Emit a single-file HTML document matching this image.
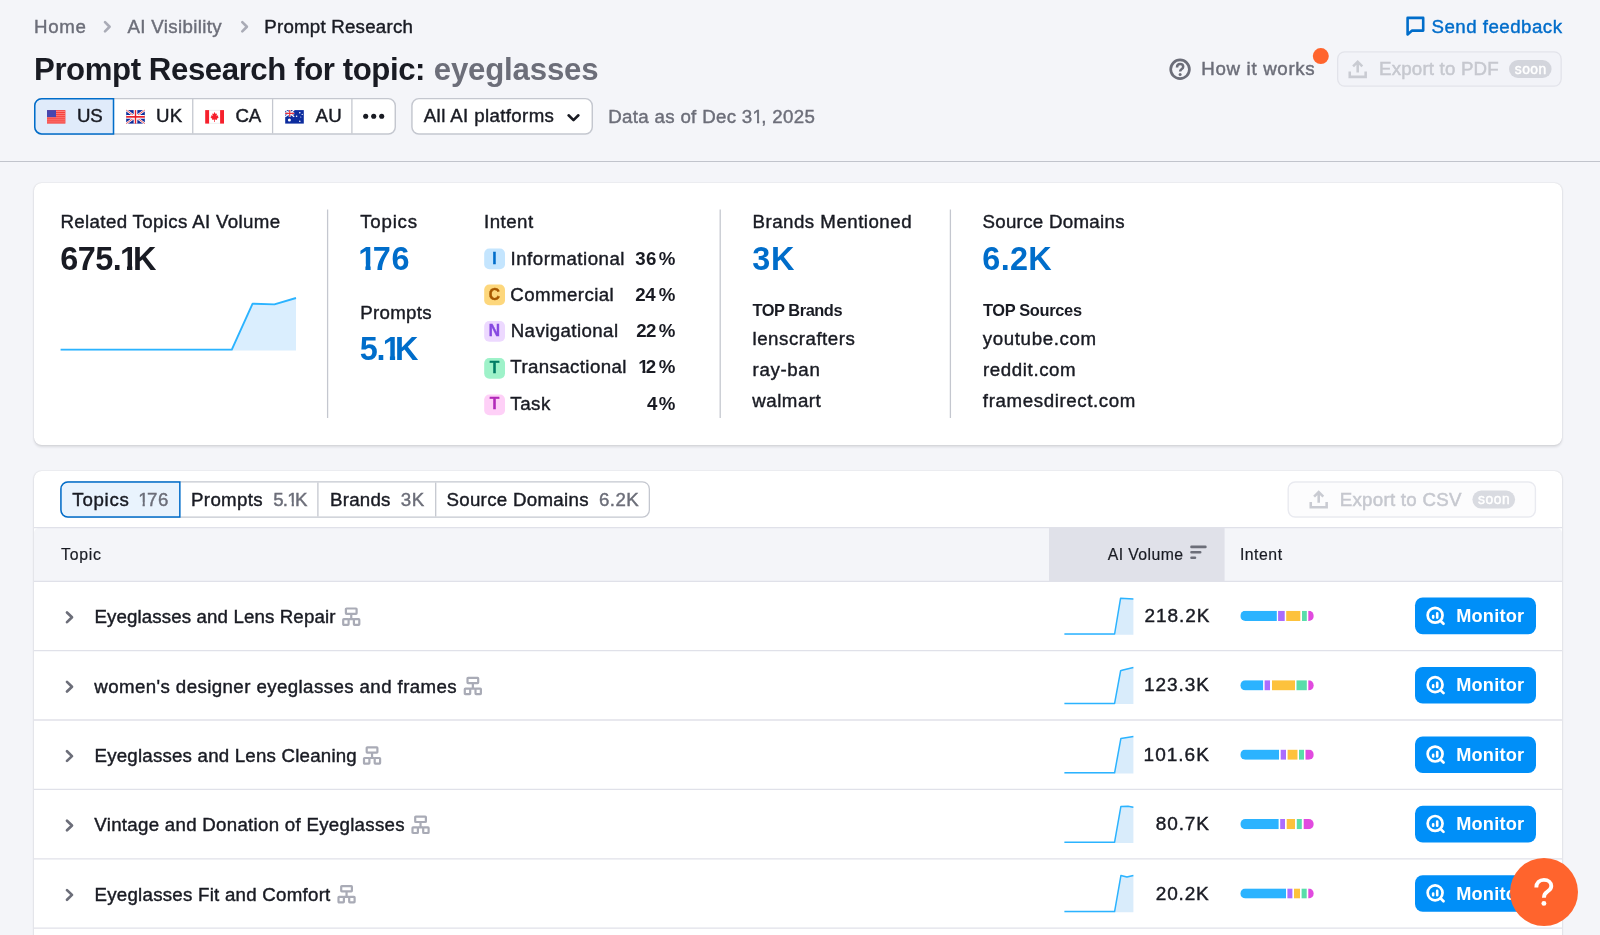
<!DOCTYPE html>
<html lang="en"><head><meta charset="utf-8"><title>Prompt Research</title>
<style>
*{margin:0;padding:0;box-sizing:border-box}
html,body{width:1600px;height:935px;overflow:hidden;background:#f4f5f9}
body{font-family:"Liberation Sans",sans-serif;position:relative;color:#191b23}
.a{position:absolute}
.t{position:absolute;white-space:nowrap;line-height:normal}
svg{position:absolute;overflow:visible}
.card{position:absolute;background:#fff;border-radius:7.7px;box-shadow:0 0 1.3px 0 rgba(25,27,35,.16),0 1.3px 2.6px 0 rgba(25,27,35,.12)}
.bdg{position:absolute;left:484.2px;width:20.8px;height:20.8px;border-radius:5px;font-weight:700;font-size:15.6px;text-align:center;line-height:20.8px}
.o,.ob{font-style:normal;display:inline-block;line-height:normal;vertical-align:baseline;margin-right:-.11em}
.o{clip-path:polygon(0 0,2em 0,2em .7em,.352em .7em,.352em 2em,.236em 2em,.236em .7em,0 .7em)}
.ob{clip-path:polygon(0 0,2em 0,2em .7em,.382em .7em,.382em 2em,.22em 2em,.22em .7em,0 .7em)}
.n1{margin:0 -4.4px 0 -1.2px}
#txt,.bdg{will-change:transform}

</style></head>
<body>
<div class="card" style="left:34px;top:183px;width:1528px;height:261.5px"></div>
<div class="card" style="left:34px;top:471px;width:1528px;height:480px"></div>
<svg id="sh" width="1600" height="935" viewBox="0 0 1600 935" style="left:0;top:0">
<g transform="translate(103.30 20.50)"><path d="M1.7 1.6 L6.3 6.25 L1.7 10.9" fill="none" stroke="#a9abb6" stroke-width="2.6" stroke-linecap="round" stroke-linejoin="round"/></g>
<g transform="translate(240.60 20.50)"><path d="M1.7 1.6 L6.3 6.25 L1.7 10.9" fill="none" stroke="#a9abb6" stroke-width="2.6" stroke-linecap="round" stroke-linejoin="round"/></g>
<g transform="translate(1406.30 16.60)"><path d="M1.3 1.3 H16.9 V14 H5.8 L1.3 17.8 Z" fill="none" stroke="#006dca" stroke-width="2.6" stroke-linejoin="round"/></g>
<g transform="translate(1169.30 58.60)"><circle cx="10.75" cy="10.7" r="9.35" fill="none" stroke="#6c6e79" stroke-width="2.7"/><path d="M7.7 8.8 C7.7 6.6 9 5.5 10.8 5.5 C12.6 5.5 13.9 6.6 13.9 8.1 C13.9 9.4 13.2 10 12.2 10.6 C11.2 11.3 10.8 11.7 10.8 13" fill="none" stroke="#6c6e79" stroke-width="2.5"/><circle cx="10.8" cy="15.8" r="1.5" fill="#6c6e79"/></g>
<circle cx="1320.8" cy="56.1" r="8" fill="#ff642d"/>
<rect x="1337.64" y="51.84" width="223.52" height="34.32" rx="7.06" fill="#f2f3f8" stroke="#e2e3ea" stroke-width="1.28" />
<g transform="translate(1348.60 60.00)"><path d="M9.1 12.4 V2 M4.5 6.3 L9.1 1.7 L13.7 6.3 M1.15 11.6 V16.85 H17.05 V11.6" fill="none" stroke="#c9cbd2" stroke-width="2.55"/></g>
<rect x="1509.00" y="60.00" width="42.60" height="18.00" rx="9.00" fill="#d3d5dc" />
<rect x="34.73" y="98.62" width="360.55" height="35.35" rx="6.98" fill="#fff" stroke="#c4c7cf" stroke-width="1.45" />
<path d="M192.75 99.10 V133.40" stroke="#c4c7cf" stroke-width="1.28"/>
<path d="M272.60 99.10 V133.40" stroke="#c4c7cf" stroke-width="1.28"/>
<path d="M351.90 99.10 V133.40" stroke="#c4c7cf" stroke-width="1.28"/>
<path d="M113.52 98.68 H41.70 A6.92 6.92 0 0 0 34.77 105.60 V127.00 A6.92 6.92 0 0 0 41.70 133.92 H113.52 Z" fill="#e0ebfa" stroke="#006dca" stroke-width="1.55"/>
<g transform="translate(47.00 110.10)"><rect width="18.4" height="13.5" fill="#f6403c"/><g fill="#ff9a95"><rect y="1.2" width="18.4" height=".7"/><rect y="3.25" width="18.4" height=".7"/><rect y="5.3" width="18.4" height=".7"/><rect y="7.4" width="18.4" height=".7"/><rect y="9.45" width="18.4" height=".7"/><rect y="11.5" width="18.4" height=".7"/></g><rect width="9" height="7" fill="#4646ae"/></g>
<g transform="translate(126.20 110.10)"><rect width="18.6" height="13.5" fill="#0c2a9a"/><path d="M0 0 L18.6 13.5 M18.6 0 L0 13.5" stroke="#fff" stroke-width="2.3"/><path d="M0 0 L18.6 13.5 M18.6 0 L0 13.5" stroke="#ee3a40" stroke-width=".8"/><path d="M9.3 0 V13.5 M0 6.75 H18.6" stroke="#fff" stroke-width="3.7"/><path d="M9.3 0 V13.5" stroke="#e8202a" stroke-width="1.4"/><path d="M0 6.75 H18.6" stroke="#e8202a" stroke-width="1.7"/></g>
<g transform="translate(205.20 110.10)"><rect width="18.8" height="13.5" fill="#fff"/><path d="M3.8 .3 H15 M3.8 13.2 H15" stroke="#e4e4e6" stroke-width=".6"/><rect width="3.9" height="13.5" fill="#f6202c"/><rect x="14.9" width="3.9" height="13.5" fill="#f6202c"/><path d="M9.4 1.9 L10.5 4 L11.8 3.4 L11.3 6 L12.9 5.2 L12.7 6.6 L13.7 6.8 L11.6 8.9 L11.9 9.9 L9.75 9.5 V11.9 H9.05 V9.5 L6.9 9.9 L7.2 8.9 L5.1 6.8 L6.1 6.6 L5.9 5.2 L7.5 6 L7 3.4 L8.3 4 Z" fill="#f6202c"/></g>
<g transform="translate(285.20 110.10)"><rect width="18.6" height="13.5" fill="#0c2c9e"/><path d="M0 0 L9 6.6 M9 0 L0 6.6" stroke="#fff" stroke-width="1.3"/><path d="M4.5 0 V6.6 M0 3.3 H9" stroke="#fff" stroke-width="2.1"/><path d="M4.5 0 V6.6 M0 3.3 H9" stroke="#e8313a" stroke-width="1.1"/><g fill="#fff"><circle cx="4.2" cy="10" r="1.5"/><circle cx="14.6" cy="2.6" r=".8"/><circle cx="17" cy="4.3" r=".6"/><circle cx="14.6" cy="11.2" r=".8"/><circle cx="11.4" cy="6.2" r=".8"/><circle cx="15.6" cy="7" r=".5"/></g></g>
<circle cx="365.7" cy="116.2" r="2.55" fill="#191b23"/>
<circle cx="373.7" cy="116.2" r="2.55" fill="#191b23"/>
<circle cx="381.7" cy="116.2" r="2.55" fill="#191b23"/>
<rect x="411.93" y="98.62" width="180.35" height="35.35" rx="6.98" fill="#fff" stroke="#c4c7cf" stroke-width="1.45" />
<g transform="translate(567.00 113.60)"><path d="M1.6 1.7 L6.5 6.5 L11.4 1.7" fill="none" stroke="#191b23" stroke-width="2.6" stroke-linecap="round" stroke-linejoin="round"/></g>
<path d="M0.00 161.45 H1600.00" stroke="#c1c4cc" stroke-width="1.15"/>
<g transform="translate(60.60 296.00)"><path d="M0 53.6 H171.2 L192 7.7 L213.8 8.4 L235.4 2 V54.6 H0 Z" fill="#daeefe"/><path d="M0 53.6 H171.2 L192 7.7 L213.8 8.4 L235.4 2" fill="none" stroke="#2bb3ff" stroke-width="1.9" stroke-linejoin="round"/></g>
<path d="M327.60 209.50 V418.00" stroke="#c4c7cf" stroke-width="1.28"/>
<path d="M720.20 209.50 V418.00" stroke="#c4c7cf" stroke-width="1.28"/>
<path d="M950.40 209.50 V418.00" stroke="#c4c7cf" stroke-width="1.28"/>
<rect x="60.84" y="481.84" width="588.52" height="35.22" rx="7.06" fill="#fff" stroke="#c4c7cf" stroke-width="1.28" />
<path d="M317.90 482.40 V516.50" stroke="#c4c7cf" stroke-width="1.28"/>
<path d="M435.70 482.40 V516.50" stroke="#c4c7cf" stroke-width="1.28"/>
<path d="M179.85 481.95 H67.90 A6.95 6.95 0 0 0 60.95 488.90 V510.00 A6.95 6.95 0 0 0 67.90 516.95 H179.85 Z" fill="#e9f3fd" stroke="#006dca" stroke-width="1.5"/>
<rect x="1288.20" y="482.00" width="247.20" height="35.00" rx="7.00" fill="#fcfcfd" stroke="#e9eaf0" stroke-width="1.4" />
<g transform="translate(1309.60 490.40)"><path d="M9.1 12.4 V2 M4.5 6.3 L9.1 1.7 L13.7 6.3 M1.15 11.6 V16.85 H17.05 V11.6" fill="none" stroke="#c9cbd2" stroke-width="2.55"/></g>
<rect x="1472.40" y="490.60" width="42.70" height="17.90" rx="9.00" fill="#d9dbe1" />
<path d="M34 582 V533 A5 5 0 0 1 39 528 H1557 A5 5 0 0 1 1562 533 V582 Z" fill="#f4f5f9"/>
<rect x="1049" y="528" width="175.6" height="54" fill="#e0e1e9"/>
<path d="M34.00 527.60 H1562.00" stroke="#e0e1e9" stroke-width="1.3"/>
<path d="M34.00 581.40 H1562.00" stroke="#e0e1e9" stroke-width="1.3"/>
<g transform="translate(1190.30 545.60)"><path d="M1.2 1.3 H15.1 M1.2 6.7 H9.9 M1.2 12.1 H4.7" fill="none" stroke="#6c6e79" stroke-width="2.6" stroke-linecap="round"/></g>
<path d="M34.00 650.60 H1562.00" stroke="#e0e1e9" stroke-width="1.3"/>
<g transform="translate(65.20 610.80)"><path d="M1.8 1.7 L6.8 6.5 L1.8 11.3" fill="none" stroke="#6c6e79" stroke-width="2.7" stroke-linecap="round" stroke-linejoin="round"/></g>
<g transform="translate(342.10 607.40)"><g fill="none" stroke="#a9abb6" stroke-width="2.2" stroke-linejoin="round"><rect x="3.8" y="1.1" width="10.7" height="5.3" rx=".6"/><rect x="1.1" y="11.8" width="5.4" height="5.6" rx=".6"/><rect x="11.8" y="11.8" width="5.4" height="5.6" rx=".6"/><path d="M9.15 6.4 V11.8 M6.5 11.8 H11.8"/></g></g>
<path d="M1064.4 634.0 L1114.6 634.0 L1120.6 598.2 L1133.4 599.1 L1133.4 634.7 L1064.4 634.7 Z" fill="#d9ecfb"/><path d="M1064.4 634.0 L1114.6 634.0 L1120.6 598.2 L1133.4 599.1" fill="none" stroke="#2bb3ff" stroke-width="1.5" stroke-linejoin="round"/>
<clipPath id="bc0"><rect x="1240.3" y="610.8" width="73.5" height="10.2" rx="5.1"/></clipPath>
<g clip-path="url(#bc0)"><rect x="1240.3" y="610.8" width="36.5" height="10.2" fill="#2bb3ff"/><rect x="1278.1" y="610.8" width="6.6" height="10.2" fill="#ab6cfe"/><rect x="1286.2" y="610.8" width="14.1" height="10.2" fill="#fdc23c"/><rect x="1302.0" y="610.8" width="4.8" height="10.2" fill="#59ddaa"/><rect x="1308.3" y="610.8" width="5.5" height="10.2" fill="#e14adf"/></g>
<rect x="1415.00" y="597.60" width="121.00" height="36.60" rx="7.70" fill="#008ff8" />
<g transform="translate(1426.20 606.60)"><circle cx="8.9" cy="8.65" r="7.45" fill="none" stroke="#fff" stroke-width="2.7"/><path d="M14.3 14.1 L17.3 17.1" stroke="#fff" stroke-width="2.7" stroke-linecap="round"/><path d="M6.95 9.4 V11 M11 6.7 V11" stroke="#fff" stroke-width="2.6" stroke-linecap="round"/></g>
<path d="M34.00 720.00 H1562.00" stroke="#e0e1e9" stroke-width="1.3"/>
<g transform="translate(65.20 680.20)"><path d="M1.8 1.7 L6.8 6.5 L1.8 11.3" fill="none" stroke="#6c6e79" stroke-width="2.7" stroke-linecap="round" stroke-linejoin="round"/></g>
<g transform="translate(463.70 676.80)"><g fill="none" stroke="#a9abb6" stroke-width="2.2" stroke-linejoin="round"><rect x="3.8" y="1.1" width="10.7" height="5.3" rx=".6"/><rect x="1.1" y="11.8" width="5.4" height="5.6" rx=".6"/><rect x="11.8" y="11.8" width="5.4" height="5.6" rx=".6"/><path d="M9.15 6.4 V11.8 M6.5 11.8 H11.8"/></g></g>
<path d="M1064.4 703.4 L1114.6 703.4 L1120.6 670.8 L1123.0 670.0 L1133.4 667.4 L1133.4 704.1 L1064.4 704.1 Z" fill="#d9ecfb"/><path d="M1064.4 703.4 L1114.6 703.4 L1120.6 670.8 L1123.0 670.0 L1133.4 667.4" fill="none" stroke="#2bb3ff" stroke-width="1.5" stroke-linejoin="round"/>
<clipPath id="bc1"><rect x="1240.3" y="680.2" width="73.5" height="10.2" rx="5.1"/></clipPath>
<g clip-path="url(#bc1)"><rect x="1240.3" y="680.2" width="22.8" height="10.2" fill="#2bb3ff"/><rect x="1264.6" y="680.2" width="5.4" height="10.2" fill="#ab6cfe"/><rect x="1272.0" y="680.2" width="23.0" height="10.2" fill="#fdc23c"/><rect x="1296.5" y="680.2" width="10.3" height="10.2" fill="#59ddaa"/><rect x="1308.3" y="680.2" width="5.5" height="10.2" fill="#e14adf"/></g>
<rect x="1415.00" y="667.00" width="121.00" height="36.60" rx="7.70" fill="#008ff8" />
<g transform="translate(1426.20 676.00)"><circle cx="8.9" cy="8.65" r="7.45" fill="none" stroke="#fff" stroke-width="2.7"/><path d="M14.3 14.1 L17.3 17.1" stroke="#fff" stroke-width="2.7" stroke-linecap="round"/><path d="M6.95 9.4 V11 M11 6.7 V11" stroke="#fff" stroke-width="2.6" stroke-linecap="round"/></g>
<path d="M34.00 789.40 H1562.00" stroke="#e0e1e9" stroke-width="1.3"/>
<g transform="translate(65.20 749.60)"><path d="M1.8 1.7 L6.8 6.5 L1.8 11.3" fill="none" stroke="#6c6e79" stroke-width="2.7" stroke-linecap="round" stroke-linejoin="round"/></g>
<g transform="translate(362.90 746.20)"><g fill="none" stroke="#a9abb6" stroke-width="2.2" stroke-linejoin="round"><rect x="3.8" y="1.1" width="10.7" height="5.3" rx=".6"/><rect x="1.1" y="11.8" width="5.4" height="5.6" rx=".6"/><rect x="11.8" y="11.8" width="5.4" height="5.6" rx=".6"/><path d="M9.15 6.4 V11.8 M6.5 11.8 H11.8"/></g></g>
<path d="M1064.4 772.8 L1114.6 772.8 L1120.9 738.4 L1133.4 736.6 L1133.4 773.5 L1064.4 773.5 Z" fill="#d9ecfb"/><path d="M1064.4 772.8 L1114.6 772.8 L1120.9 738.4 L1133.4 736.6" fill="none" stroke="#2bb3ff" stroke-width="1.5" stroke-linejoin="round"/>
<clipPath id="bc2"><rect x="1240.3" y="749.6" width="73.5" height="10.2" rx="5.1"/></clipPath>
<g clip-path="url(#bc2)"><rect x="1240.3" y="749.6" width="38.7" height="10.2" fill="#2bb3ff"/><rect x="1280.7" y="749.6" width="5.3" height="10.2" fill="#ab6cfe"/><rect x="1287.6" y="749.6" width="9.9" height="10.2" fill="#fdc23c"/><rect x="1299.0" y="749.6" width="5.0" height="10.2" fill="#59ddaa"/><rect x="1305.5" y="749.6" width="8.3" height="10.2" fill="#e14adf"/></g>
<rect x="1415.00" y="736.40" width="121.00" height="36.60" rx="7.70" fill="#008ff8" />
<g transform="translate(1426.20 745.40)"><circle cx="8.9" cy="8.65" r="7.45" fill="none" stroke="#fff" stroke-width="2.7"/><path d="M14.3 14.1 L17.3 17.1" stroke="#fff" stroke-width="2.7" stroke-linecap="round"/><path d="M6.95 9.4 V11 M11 6.7 V11" stroke="#fff" stroke-width="2.6" stroke-linecap="round"/></g>
<path d="M34.00 858.80 H1562.00" stroke="#e0e1e9" stroke-width="1.3"/>
<g transform="translate(65.20 819.00)"><path d="M1.8 1.7 L6.8 6.5 L1.8 11.3" fill="none" stroke="#6c6e79" stroke-width="2.7" stroke-linecap="round" stroke-linejoin="round"/></g>
<g transform="translate(411.40 815.60)"><g fill="none" stroke="#a9abb6" stroke-width="2.2" stroke-linejoin="round"><rect x="3.8" y="1.1" width="10.7" height="5.3" rx=".6"/><rect x="1.1" y="11.8" width="5.4" height="5.6" rx=".6"/><rect x="11.8" y="11.8" width="5.4" height="5.6" rx=".6"/><path d="M9.15 6.4 V11.8 M6.5 11.8 H11.8"/></g></g>
<path d="M1064.4 842.2 L1114.6 842.2 L1120.9 806.4 L1128.0 806.3 L1133.4 807.2 L1133.4 842.9 L1064.4 842.9 Z" fill="#d9ecfb"/><path d="M1064.4 842.2 L1114.6 842.2 L1120.9 806.4 L1128.0 806.3 L1133.4 807.2" fill="none" stroke="#2bb3ff" stroke-width="1.5" stroke-linejoin="round"/>
<clipPath id="bc3"><rect x="1240.3" y="819.0" width="73.5" height="10.2" rx="5.1"/></clipPath>
<g clip-path="url(#bc3)"><rect x="1240.3" y="819.0" width="38.3" height="10.2" fill="#2bb3ff"/><rect x="1280.2" y="819.0" width="4.8" height="10.2" fill="#ab6cfe"/><rect x="1286.7" y="819.0" width="8.3" height="10.2" fill="#fdc23c"/><rect x="1296.8" y="819.0" width="5.0" height="10.2" fill="#59ddaa"/><rect x="1303.7" y="819.0" width="10.1" height="10.2" fill="#e14adf"/></g>
<rect x="1415.00" y="805.80" width="121.00" height="36.60" rx="7.70" fill="#008ff8" />
<g transform="translate(1426.20 814.80)"><circle cx="8.9" cy="8.65" r="7.45" fill="none" stroke="#fff" stroke-width="2.7"/><path d="M14.3 14.1 L17.3 17.1" stroke="#fff" stroke-width="2.7" stroke-linecap="round"/><path d="M6.95 9.4 V11 M11 6.7 V11" stroke="#fff" stroke-width="2.6" stroke-linecap="round"/></g>
<path d="M34.00 928.20 H1562.00" stroke="#e0e1e9" stroke-width="1.3"/>
<g transform="translate(65.20 888.40)"><path d="M1.8 1.7 L6.8 6.5 L1.8 11.3" fill="none" stroke="#6c6e79" stroke-width="2.7" stroke-linecap="round" stroke-linejoin="round"/></g>
<g transform="translate(337.40 885.00)"><g fill="none" stroke="#a9abb6" stroke-width="2.2" stroke-linejoin="round"><rect x="3.8" y="1.1" width="10.7" height="5.3" rx=".6"/><rect x="1.1" y="11.8" width="5.4" height="5.6" rx=".6"/><rect x="11.8" y="11.8" width="5.4" height="5.6" rx=".6"/><path d="M9.15 6.4 V11.8 M6.5 11.8 H11.8"/></g></g>
<path d="M1064.4 911.6 L1114.6 911.6 L1120.9 875.6 L1126.9 877.1 L1133.4 875.4 L1133.4 912.3 L1064.4 912.3 Z" fill="#d9ecfb"/><path d="M1064.4 911.6 L1114.6 911.6 L1120.9 875.6 L1126.9 877.1 L1133.4 875.4" fill="none" stroke="#2bb3ff" stroke-width="1.5" stroke-linejoin="round"/>
<clipPath id="bc4"><rect x="1240.3" y="888.4" width="73.5" height="10.2" rx="5.1"/></clipPath>
<g clip-path="url(#bc4)"><rect x="1240.3" y="888.4" width="45.7" height="10.2" fill="#2bb3ff"/><rect x="1287.4" y="888.4" width="5.0" height="10.2" fill="#ab6cfe"/><rect x="1294.0" y="888.4" width="6.0" height="10.2" fill="#fdc23c"/><rect x="1301.6" y="888.4" width="5.1" height="10.2" fill="#59ddaa"/><rect x="1308.3" y="888.4" width="5.5" height="10.2" fill="#e14adf"/></g>
<rect x="1415.00" y="875.20" width="121.00" height="36.60" rx="7.70" fill="#008ff8" />
<g transform="translate(1426.20 884.20)"><circle cx="8.9" cy="8.65" r="7.45" fill="none" stroke="#fff" stroke-width="2.7"/><path d="M14.3 14.1 L17.3 17.1" stroke="#fff" stroke-width="2.7" stroke-linecap="round"/><path d="M6.95 9.4 V11 M11 6.7 V11" stroke="#fff" stroke-width="2.6" stroke-linecap="round"/></g>
<rect x="484.2" y="248.55" width="20.8" height="20.8" rx="5.1" fill="#c4e5fe"/><rect x="484.2" y="284.55" width="20.8" height="20.8" rx="5.1" fill="#fdd77c"/><rect x="484.2" y="321.00" width="20.8" height="20.8" rx="5.1" fill="#edd9ff"/><rect x="484.2" y="357.90" width="20.8" height="20.8" rx="5.1" fill="#9ef2c9"/><rect x="484.2" y="394.45" width="20.8" height="20.8" rx="5.1" fill="#fed0f7"/></svg>
<div class="bdg" style="top:249px;color:#006dca;-webkit-text-stroke:.4px #006dca">I</div>
<div class="bdg" style="top:285px;color:#a75800;-webkit-text-stroke:.4px #a75800">C</div>
<div class="bdg" style="top:321px;color:#8649e1;-webkit-text-stroke:.4px #8649e1">N</div>
<div class="bdg" style="top:358px;color:#007c65;-webkit-text-stroke:.4px #007c65">T</div>
<div class="bdg" style="top:394px;color:#b229b9;-webkit-text-stroke:.4px #b229b9">T</div>

<div id="txt">
<span class="t" id="t0" style="left:34.01px;top:16px;font-size:18.7px;color:#6c6e79;letter-spacing:0.664px;-webkit-text-stroke:0.42px #6c6e79;">Home</span>
<span class="t" id="t1" style="left:127.42px;top:16px;font-size:18.7px;color:#6c6e79;letter-spacing:0.350px;-webkit-text-stroke:0.42px #6c6e79;">AI Visibility</span>
<span class="t" id="t2" style="left:264.24px;top:16px;font-size:18.7px;color:#191b23;letter-spacing:0.230px;-webkit-text-stroke:0.42px #191b23;">Prompt Research</span>
<span class="t" id="t3" style="left:34.00px;top:52px;font-size:31.2px;color:#191b23;font-weight:700;letter-spacing:-0.422px;">Prompt Research for topic:</span>
<span class="t" id="t4" style="left:433.75px;top:52px;font-size:31.2px;color:#6c6e79;font-weight:700;letter-spacing:-0.183px;">eyeglasses</span>
<span class="t" id="t5" style="left:1431.47px;top:16px;font-size:18.7px;color:#006dca;letter-spacing:0.491px;-webkit-text-stroke:0.42px #006dca;">Send feedback</span>
<span class="t" id="t6" style="left:1201.21px;top:58px;font-size:18.7px;color:#6c6e79;letter-spacing:0.691px;-webkit-text-stroke:0.45px #6c6e79;">How it works</span>
<span class="t" id="t7" style="left:1379.01px;top:58px;font-size:18.7px;color:#c6c8cf;letter-spacing:0.198px;-webkit-text-stroke:0.5px #c6c8cf;">Export to PDF</span>
<span class="t" id="t8" style="left:1514.80px;top:62px;font-size:13.8px;color:#fff;letter-spacing:0.460px;-webkit-text-stroke:.45px #fff;">soon</span>
<span class="t" id="t9" style="left:76.91px;top:105px;font-size:18.7px;color:#191b23;letter-spacing:-0.266px;-webkit-text-stroke:0.42px #191b23;">US</span>
<span class="t" id="t10" style="left:155.92px;top:105px;font-size:18.7px;color:#191b23;letter-spacing:0.461px;-webkit-text-stroke:0.42px #191b23;">UK</span>
<span class="t" id="t11" style="left:235.42px;top:105px;font-size:18.7px;color:#191b23;letter-spacing:-0.075px;-webkit-text-stroke:0.42px #191b23;">CA</span>
<span class="t" id="t12" style="left:315.42px;top:105px;font-size:18.7px;color:#191b23;letter-spacing:0.438px;-webkit-text-stroke:0.42px #191b23;">AU</span>
<span class="t" id="t13" style="left:423.79px;top:105px;font-size:18.7px;color:#191b23;letter-spacing:0.367px;-webkit-text-stroke:0.42px #191b23;">All AI platforms</span>
<span class="t" id="t14" style="left:608.24px;top:106px;font-size:18.7px;color:#6c6e79;letter-spacing:0.322px;-webkit-text-stroke:0.42px #6c6e79;">Data as of Dec 3<i class="o">1</i>, 2025</span>
<span class="t" id="t15" style="left:60.52px;top:211px;font-size:18.7px;color:#191b23;letter-spacing:0.349px;-webkit-text-stroke:0.42px #191b23;">Related Topics AI Volume</span>
<span class="t" id="t16" style="left:60.35px;top:241px;font-size:32.4px;color:#191b23;font-weight:700;letter-spacing:-0.578px;">675.<i class="ob n1">1</i>K</span>
<span class="t" id="t17" style="left:360.18px;top:211px;font-size:18.7px;color:#191b23;letter-spacing:0.778px;-webkit-text-stroke:0.42px #191b23;">Topics</span>
<span class="t" id="t18" style="left:359.46px;top:241px;font-size:32.4px;color:#006dca;font-weight:700;letter-spacing:0.741px;"><i class="ob n1">1</i>76</span>
<span class="t" id="t19" style="left:360.24px;top:302px;font-size:18.7px;color:#191b23;letter-spacing:0.282px;-webkit-text-stroke:0.42px #191b23;">Prompts</span>
<span class="t" id="t20" style="left:359.82px;top:331px;font-size:32.4px;color:#006dca;font-weight:700;letter-spacing:-1.445px;">5.<i class="ob n1">1</i>K</span>
<span class="t" id="t21" style="left:484.05px;top:211px;font-size:18.7px;color:#191b23;letter-spacing:0.462px;-webkit-text-stroke:0.42px #191b23;">Intent</span>
<span class="t" id="t22" style="left:510.54px;top:248px;font-size:18.7px;color:#191b23;letter-spacing:0.495px;-webkit-text-stroke:0.42px #191b23;">Informational</span>
<span class="t" id="t23" style="left:635.34px;top:248px;font-size:18.7px;color:#191b23;font-weight:700;letter-spacing:0.334px;">36</span>
<span class="t" id="t24" style="left:658.76px;top:248px;font-size:18.7px;color:#191b23;font-weight:700;">%</span>
<span class="t" id="t25" style="left:510.27px;top:284px;font-size:18.7px;color:#191b23;letter-spacing:0.418px;-webkit-text-stroke:0.42px #191b23;">Commercial</span>
<span class="t" id="t26" style="left:635.13px;top:284px;font-size:18.7px;color:#191b23;font-weight:700;letter-spacing:-0.301px;">24</span>
<span class="t" id="t27" style="left:658.76px;top:284px;font-size:18.7px;color:#191b23;font-weight:700;">%</span>
<span class="t" id="t28" style="left:510.70px;top:320px;font-size:18.7px;color:#191b23;letter-spacing:0.411px;-webkit-text-stroke:0.42px #191b23;">Navigational</span>
<span class="t" id="t29" style="left:636.24px;top:320px;font-size:18.7px;color:#191b23;font-weight:700;letter-spacing:-0.584px;">22</span>
<span class="t" id="t30" style="left:658.76px;top:320px;font-size:18.7px;color:#191b23;font-weight:700;">%</span>
<span class="t" id="t31" style="left:510.37px;top:356px;font-size:18.7px;color:#191b23;letter-spacing:0.375px;-webkit-text-stroke:0.42px #191b23;">Transactional</span>
<span class="t" id="t32" style="left:638.36px;top:356px;font-size:18.7px;color:#191b23;font-weight:700;letter-spacing:-0.906px;"><i class="ob">1</i>2</span>
<span class="t" id="t33" style="left:658.76px;top:356px;font-size:18.7px;color:#191b23;font-weight:700;">%</span>
<span class="t" id="t34" style="left:510.37px;top:393px;font-size:18.7px;color:#191b23;letter-spacing:0.487px;-webkit-text-stroke:0.42px #191b23;">Task</span>
<span class="t" id="t35" style="left:647.00px;top:393px;font-size:18.7px;color:#191b23;font-weight:700;">4</span>
<span class="t" id="t36" style="left:658.76px;top:393px;font-size:18.7px;color:#191b23;font-weight:700;">%</span>
<span class="t" id="t37" style="left:752.52px;top:211px;font-size:18.7px;color:#191b23;letter-spacing:0.489px;-webkit-text-stroke:0.42px #191b23;">Brands Mentioned</span>
<span class="t" id="t38" style="left:752.15px;top:241px;font-size:32.4px;color:#006dca;font-weight:700;letter-spacing:0.806px;">3K</span>
<span class="t" id="t39" style="left:752.54px;top:301px;font-size:16.4px;color:#191b23;font-weight:700;letter-spacing:-0.460px;">TOP Brands</span>
<span class="t" id="t40" style="left:752.56px;top:328px;font-size:18.7px;color:#191b23;letter-spacing:0.515px;-webkit-text-stroke:0.42px #191b23;">lenscrafters</span>
<span class="t" id="t41" style="left:752.57px;top:359px;font-size:18.7px;color:#191b23;letter-spacing:0.644px;-webkit-text-stroke:0.42px #191b23;">ray-ban</span>
<span class="t" id="t42" style="left:752.26px;top:390px;font-size:18.7px;color:#191b23;letter-spacing:0.510px;-webkit-text-stroke:0.42px #191b23;">walmart</span>
<span class="t" id="t43" style="left:982.47px;top:211px;font-size:18.7px;color:#191b23;letter-spacing:0.298px;-webkit-text-stroke:0.42px #191b23;">Source Domains</span>
<span class="t" id="t44" style="left:982.34px;top:241px;font-size:32.4px;color:#006dca;font-weight:700;letter-spacing:0.308px;">6.2K</span>
<span class="t" id="t45" style="left:982.90px;top:301px;font-size:16.4px;color:#191b23;font-weight:700;letter-spacing:-0.321px;">TOP Sources</span>
<span class="t" id="t46" style="left:982.77px;top:328px;font-size:18.7px;color:#191b23;letter-spacing:0.629px;-webkit-text-stroke:0.42px #191b23;">youtube.com</span>
<span class="t" id="t47" style="left:983.05px;top:359px;font-size:18.7px;color:#191b23;letter-spacing:0.598px;-webkit-text-stroke:0.42px #191b23;">reddit.com</span>
<span class="t" id="t48" style="left:982.86px;top:390px;font-size:18.7px;color:#191b23;letter-spacing:0.613px;-webkit-text-stroke:0.42px #191b23;">framesdirect.com</span>
<span class="t" id="t49" style="left:72.37px;top:489px;font-size:18.7px;color:#191b23;letter-spacing:0.710px;-webkit-text-stroke:0.42px #191b23;">Topics</span>
<span class="t" id="t50" style="left:138.19px;top:489px;font-size:18.7px;color:#6c6e79;letter-spacing:0.498px;-webkit-text-stroke:0.42px #6c6e79;"><i class="o">1</i>76</span>
<span class="t" id="t51" style="left:191.06px;top:489px;font-size:18.7px;color:#191b23;letter-spacing:0.325px;-webkit-text-stroke:0.42px #191b23;">Prompts</span>
<span class="t" id="t52" style="left:273.15px;top:489px;font-size:18.7px;color:#6c6e79;letter-spacing:-0.718px;-webkit-text-stroke:0.42px #6c6e79;">5.<i class="o">1</i>K</span>
<span class="t" id="t53" style="left:330.06px;top:489px;font-size:18.7px;color:#191b23;letter-spacing:0.240px;-webkit-text-stroke:0.42px #191b23;">Brands</span>
<span class="t" id="t54" style="left:400.85px;top:489px;font-size:18.7px;color:#6c6e79;letter-spacing:0.573px;-webkit-text-stroke:0.42px #6c6e79;">3K</span>
<span class="t" id="t55" style="left:446.47px;top:489px;font-size:18.7px;color:#191b23;letter-spacing:0.298px;-webkit-text-stroke:0.42px #191b23;">Source Domains</span>
<span class="t" id="t56" style="left:598.88px;top:489px;font-size:18.7px;color:#6c6e79;letter-spacing:0.491px;-webkit-text-stroke:0.42px #6c6e79;">6.2K</span>
<span class="t" id="t57" style="left:1339.70px;top:489px;font-size:18.7px;color:#c6c8cf;letter-spacing:0.282px;-webkit-text-stroke:0.5px #c6c8cf;">Export to CSV</span>
<span class="t" id="t58" style="left:1478.12px;top:492px;font-size:13.8px;color:#fff;letter-spacing:0.571px;-webkit-text-stroke:.45px #fff;">soon</span>
<span class="t" id="t59" style="left:61.11px;top:546px;font-size:15.8px;color:#191b23;letter-spacing:0.742px;-webkit-text-stroke:0.2px #191b23;">Topic</span>
<span class="t" id="t60" style="left:1107.83px;top:546px;font-size:15.8px;color:#191b23;letter-spacing:0.392px;-webkit-text-stroke:0.2px #191b23;">AI Volume</span>
<span class="t" id="t61" style="left:1239.89px;top:546px;font-size:15.8px;color:#191b23;letter-spacing:0.532px;-webkit-text-stroke:0.2px #191b23;">Intent</span>
<span class="t" id="t62" style="left:94.52px;top:606px;font-size:18.7px;color:#191b23;letter-spacing:0.120px;-webkit-text-stroke:0.42px #191b23;">Eyeglasses and Lens Repair</span>
<span class="t" id="t63" style="left:1144.46px;top:605px;font-size:19.0px;color:#191b23;letter-spacing:0.931px;/*keep1*/-webkit-text-stroke:0.42px #191b23;">218.2K</span>
<span class="t" id="t64" style="left:1456.16px;top:606px;font-size:18.2px;color:#fff;font-weight:700;letter-spacing:0.211px;">Monitor</span>
<span class="t" id="t65" style="left:94.26px;top:676px;font-size:18.7px;color:#191b23;letter-spacing:0.407px;-webkit-text-stroke:0.42px #191b23;">women's designer eyeglasses and frames</span>
<span class="t" id="t66" style="left:1143.88px;top:674px;font-size:19.0px;color:#191b23;letter-spacing:0.987px;/*keep1*/-webkit-text-stroke:0.42px #191b23;">123.3K</span>
<span class="t" id="t67" style="left:1456.16px;top:675px;font-size:18.2px;color:#fff;font-weight:700;letter-spacing:0.211px;">Monitor</span>
<span class="t" id="t68" style="left:94.52px;top:745px;font-size:18.7px;color:#191b23;letter-spacing:0.208px;-webkit-text-stroke:0.42px #191b23;">Eyeglasses and Lens Cleaning</span>
<span class="t" id="t69" style="left:1143.58px;top:744px;font-size:19.0px;color:#191b23;letter-spacing:1.005px;/*keep1*/-webkit-text-stroke:0.42px #191b23;">101.6K</span>
<span class="t" id="t70" style="left:1456.16px;top:745px;font-size:18.2px;color:#fff;font-weight:700;letter-spacing:0.211px;">Monitor</span>
<span class="t" id="t71" style="left:94.33px;top:814px;font-size:18.7px;color:#191b23;letter-spacing:0.281px;-webkit-text-stroke:0.42px #191b23;">Vintage and Donation of Eyeglasses</span>
<span class="t" id="t72" style="left:1155.81px;top:813px;font-size:19.0px;color:#191b23;letter-spacing:0.873px;/*keep1*/-webkit-text-stroke:0.42px #191b23;">80.7K</span>
<span class="t" id="t73" style="left:1456.16px;top:814px;font-size:18.2px;color:#fff;font-weight:700;letter-spacing:0.211px;">Monitor</span>
<span class="t" id="t74" style="left:94.52px;top:884px;font-size:18.7px;color:#191b23;letter-spacing:0.250px;-webkit-text-stroke:0.42px #191b23;">Eyeglasses Fit and Comfort</span>
<span class="t" id="t75" style="left:1155.75px;top:883px;font-size:19.0px;color:#191b23;letter-spacing:0.825px;/*keep1*/-webkit-text-stroke:0.42px #191b23;">20.2K</span>
<span class="t" id="t76" style="left:1456.16px;top:884px;font-size:18.2px;color:#fff;font-weight:700;letter-spacing:0.211px;">Monitor</span>
</div>
<svg style="left:1510px;top:858px;z-index:6" width="68" height="68" viewBox="0 0 68 68"><circle cx="34" cy="34" r="34" fill="#ff642d"/><g transform="translate(24 20)"><path d="M2.3 9.4 C2.3 4.7 5.5 1.9 9.9 1.9 C14.3 1.9 17.3 4.5 17.3 8.1 C17.3 10.9 15.7 12.2 13.4 13.6 C11 15.1 9.9 16.3 9.9 19.7" fill="none" stroke="#fff" stroke-width="3.85"/><circle cx="9.9" cy="25.4" r="2.45" fill="#fff"/></g></svg>

</body></html>
